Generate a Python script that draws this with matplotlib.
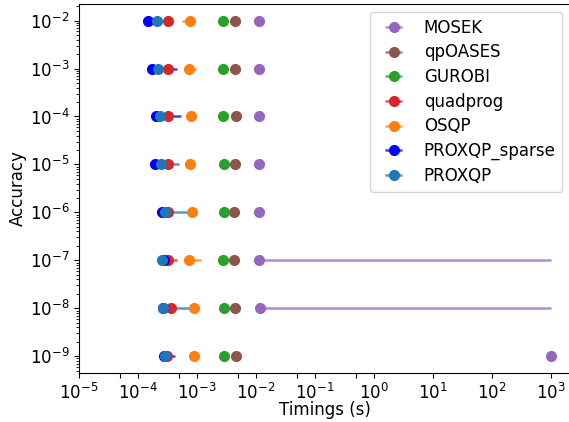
import matplotlib
matplotlib.use("Agg")
import matplotlib.pyplot as plt
from matplotlib.ticker import FixedLocator, NullFormatter
import numpy as np

accuracy = [1e-2, 1e-3, 1e-4, 1e-5, 1e-6, 1e-7, 1e-8, 1e-9]

# timings (s): centre, lower end, upper end of the bar
mosek_t = [1.14e-2, 1.13e-2, 1.13e-2, 1.13e-2, 1.14e-2, 1.14e-2, 1.17e-2, 1000]
mosek_lo = [1.12e-2, 1.11e-2, 1.11e-2, 1.11e-2, 1.12e-2, 1.12e-2, 1.15e-2, 1000]
mosek_hi = [1.16e-2, 1.15e-2, 1.15e-2, 1.15e-2, 1.16e-2, 1000, 1000, 1000]

qpoases_t = [4.36e-3, 4.40e-3, 4.63e-3, 4.40e-3, 4.24e-3, 4.29e-3, 4.40e-3, 4.58e-3]
qpoases_lo = [4.28e-3, 4.32e-3, 4.50e-3, 4.32e-3, 4.16e-3, 4.21e-3, 4.32e-3, 4.50e-3]
qpoases_hi = [4.45e-3, 4.48e-3, 4.75e-3, 4.48e-3, 4.32e-3, 4.37e-3, 4.48e-3, 4.66e-3]

gurobi_t = [2.79e-3, 2.79e-3, 2.79e-3, 2.84e-3, 2.84e-3, 2.79e-3, 2.84e-3, 2.87e-3]
gurobi_lo = [2.74e-3, 2.74e-3, 2.74e-3, 2.79e-3, 2.79e-3, 2.74e-3, 2.79e-3, 2.82e-3]
gurobi_hi = [2.84e-3, 2.84e-3, 2.84e-3, 2.89e-3, 2.89e-3, 2.84e-3, 2.89e-3, 2.92e-3]

quadprog_t = [3.22e-4, 3.22e-4, 3.22e-4, 3.22e-4, 3.26e-4, 3.26e-4, 3.58e-4, 3.14e-4]
quadprog_lo = [3.15e-4, 3.15e-4, 3.15e-4, 3.15e-4, 3.19e-4, 3.19e-4, 3.50e-4, 3.07e-4]
quadprog_hi = [3.30e-4, 3.30e-4, 3.30e-4, 3.30e-4, 3.34e-4, 4.53e-4, 3.66e-4, 3.22e-4]

osqp_t = [7.6e-4, 7.4e-4, 7.8e-4, 7.6e-4, 8.1e-4, 7.3e-4, 8.9e-4, 8.9e-4]
osqp_lo = [5.57e-4, 7.2e-4, 7.6e-4, 7.4e-4, 7.9e-4, 7.1e-4, 8.7e-4, 8.7e-4]
osqp_hi = [7.8e-4, 9.5e-4, 8.0e-4, 7.8e-4, 8.3e-4, 1.16e-3, 9.1e-4, 9.1e-4]

sparse_t = [1.50e-4, 1.75e-4, 2.00e-4, 1.94e-4, 2.58e-4, 2.76e-4, 2.66e-4, 2.76e-4]
sparse_lo = [1.46e-4, 1.70e-4, 1.71e-4, 1.89e-4, 2.12e-4, 2.12e-4, 2.60e-4, 2.70e-4]
sparse_hi = [1.54e-4, 4.6e-4, 5.4e-4, 2.0e-4, 2.65e-4, 2.83e-4, 2.72e-4, 4.3e-4]

proxqp_t = [2.12e-4, 2.21e-4, 2.36e-4, 2.48e-4, 2.87e-4, 2.58e-4, 2.65e-4, 2.87e-4]
proxqp_lo = [2.07e-4, 2.16e-4, 2.30e-4, 2.42e-4, 2.80e-4, 2.52e-4, 2.59e-4, 2.80e-4]
proxqp_hi = [2.17e-4, 2.26e-4, 2.42e-4, 4.96e-4, 6.85e-4, 2.64e-4, 7.3e-4, 2.94e-4]

solvers = [
  ("MOSEK", mosek_t, mosek_lo, mosek_hi, "C4"),
  ("qpOASES", qpoases_t, qpoases_lo, qpoases_hi, "C5"),
  ("GUROBI", gurobi_t, gurobi_lo, gurobi_hi, "C2"),
  ("quadprog", quadprog_t, quadprog_lo, quadprog_hi, "C3"),
  ("OSQP", osqp_t, osqp_lo, osqp_hi, "C1"),
  ("PROXQP_sparse", sparse_t, sparse_lo, sparse_hi, "blue"),
  ("PROXQP", proxqp_t, proxqp_lo, proxqp_hi, "C0"),
]

plt.rcParams["font.size"] = 12

fig = plt.figure(figsize=(5.69, 4.22), dpi=100)
ax = fig.add_axes([0.139, 0.116, 0.864, 0.875])

for name, t, lo, hi, color in solvers:
  t = np.array(t)
  xerr = [t - np.array(lo), np.array(hi) - t]
  ax.errorbar(t, accuracy, xerr=xerr, fmt="o", color=color, label=name,
              markersize=7, elinewidth=1.8, ecolor=matplotlib.colors.to_rgba(color, 0.75))

ax.set_xscale("log")
ax.set_yscale("log")
ax.set_xlim(1e-5, 2.2e3)
ax.set_ylim(10 ** -9.35, 10 ** -1.65)
ax.yaxis.set_major_locator(FixedLocator(accuracy))
ax.xaxis.set_major_locator(FixedLocator([10.0 ** k for k in range(-5, 4)]))
ax.xaxis.set_minor_locator(FixedLocator([5e-5, 5e-4, 5e-3, 5e-2, 5e-1]))
ax.xaxis.set_minor_formatter(NullFormatter())
ax.tick_params(axis="x", which="minor", length=3.5, width=0.8)
ax.set_xlabel("Timings (s)", labelpad=-1)
ax.set_ylabel("Accuracy", labelpad=2)
ax.legend(loc="upper right", labelspacing=0.4)

fig.savefig("out.png", dpi=100)
